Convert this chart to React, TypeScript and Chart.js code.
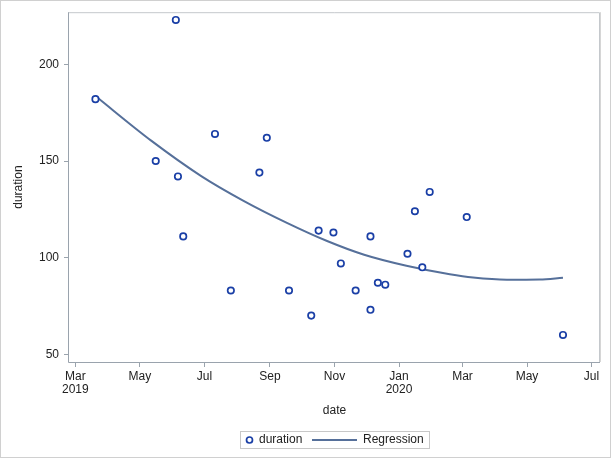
import React, { useEffect, useRef } from "react";
import { Chart, registerables } from "chart.js";

Chart.register(...registerables);

// Observed points
const pointDates = [
  "2019-03-20", "2019-05-16", "2019-06-04", "2019-06-06", "2019-06-11",
  "2019-07-11", "2019-07-26", "2019-08-22", "2019-08-29", "2019-09-19",
  "2019-10-10", "2019-10-17", "2019-10-31", "2019-11-07", "2019-11-21",
  "2019-12-05", "2019-12-05", "2019-12-12", "2019-12-19", "2020-01-09",
  "2020-01-16", "2020-01-23", "2020-01-30", "2020-03-05", "2020-06-04",
];
const durations = [
  182, 150, 223, 142, 111,
  164, 83, 144, 162, 83,
  70, 114, 113, 97, 83,
  111, 73, 87, 86, 102,
  124, 95, 134, 121, 60,
];

// Regression curve
const regDates = [
  "2019-03-20", "2019-05-12", "2019-06-28", "2019-08-07", "2019-09-17",
  "2019-10-25", "2019-11-29", "2020-01-08", "2020-02-18", "2020-03-11",
  "2020-04-12", "2020-05-13", "2020-06-04",
];
const regValues = [
  183.6, 160.4, 142.2, 129.4, 118.0,
  108.6, 101.5, 95.8, 91.4, 89.7,
  88.6, 88.7, 89.6,
];

// Axis ticks
const xTickDates = [
  "2019-03-01", "2019-05-01", "2019-07-01", "2019-09-01", "2019-11-01",
  "2020-01-01", "2020-03-01", "2020-05-01", "2020-07-01",
];
const xTickMonths = ["Mar", "May", "Jul", "Sep", "Nov", "Jan", "Mar", "May", "Jul"];
const xTickYears = ["2019", "", "", "", "", "2020", "", "", ""];
const yTicks = [50, 100, 150, 200];

const X_MIN = "2019-02-23";
const X_MAX = "2020-07-09";
const Y_MIN = 46;
const Y_MAX = 227;

const FONT = "'Liberation Sans', Arial, Helvetica, sans-serif";
const TEXT = "#222";
const MARKER = "#1a3fa6";
const LINE = "#56709a";
const AXIS = "#9aa3ad";

const ms = (d: string) => Date.parse(d + "T00:00:00Z");

const decorPlugin = {
  id: "decor",
  afterDraw(chart: any) {
    const ctx = chart.ctx as CanvasRenderingContext2D;
    const a = chart.chartArea;
    const W = chart.width;
    const H = chart.height;
    ctx.save();
    // outer border
    ctx.strokeStyle = "#d0d0d0";
    ctx.lineWidth = 1;
    ctx.strokeRect(0.5, 0.5, W - 1, H - 1);
    // plot frame
    ctx.strokeStyle = "#c4c8cc";
    ctx.beginPath();
    ctx.moveTo(a.left, a.top + 0.5);
    ctx.lineTo(a.right - 0.5, a.top + 0.5);
    ctx.lineTo(a.right - 0.5, a.bottom);
    ctx.stroke();
    ctx.strokeStyle = "#d6d6d6";
    ctx.beginPath();
    ctx.moveTo(a.right + 0.5, a.top);
    ctx.lineTo(a.right + 0.5, a.bottom);
    ctx.stroke();
    ctx.strokeStyle = AXIS;
    ctx.beginPath();
    ctx.moveTo(a.left - 0.5, a.top);
    ctx.lineTo(a.left - 0.5, a.bottom + 0.5);
    ctx.lineTo(a.right, a.bottom + 0.5);
    ctx.stroke();

    // axis titles
    ctx.fillStyle = TEXT;
    ctx.font = `12px ${FONT}`;
    ctx.textAlign = "center";
    ctx.textBaseline = "middle";
    ctx.fillText("date", (a.left + a.right) / 2, 411);
    ctx.save();
    ctx.translate(19, (a.top + a.bottom) / 2);
    ctx.rotate(-Math.PI / 2);
    ctx.fillText("duration", 0, 0);
    ctx.restore();

    // legend
    const lx = 240, ly = 431, lw = 189, lh = 17;
    ctx.strokeStyle = "#c8c8c8";
    ctx.lineWidth = 1;
    ctx.strokeRect(lx + 0.5, ly + 0.5, lw, lh);
    const cy = ly + lh / 2 + 0.5;
    ctx.strokeStyle = MARKER;
    ctx.lineWidth = 1.7;
    ctx.beginPath();
    ctx.arc(249.5, cy, 3, 0, Math.PI * 2);
    ctx.stroke();
    ctx.textAlign = "left";
    ctx.fillStyle = TEXT;
    ctx.fillText("duration", 259, cy);
    ctx.strokeStyle = LINE;
    ctx.lineWidth = 2;
    ctx.beginPath();
    ctx.moveTo(312, cy);
    ctx.lineTo(357, cy);
    ctx.stroke();
    ctx.fillText("Regression", 363, cy);
    ctx.restore();
  },
};

export default function App() {
  const ref = useRef<HTMLCanvasElement | null>(null);

  useEffect(() => {
    if (!ref.current) return;
    const pts = pointDates.map((d, i) => ({ x: ms(d), y: durations[i] }));
    const reg = regDates.map((d, i) => ({ x: ms(d), y: regValues[i] }));
    const chart = new Chart(ref.current, {
      type: "scatter",
      data: {
        datasets: [
          {
            label: "duration",
            data: pts,
            order: 0,
            pointStyle: "circle",
            pointRadius: 3.2,
            pointBorderWidth: 1.7,
            borderColor: MARKER,
            backgroundColor: "#ffffff",
            showLine: false,
          } as any,
          {
            label: "Regression",
            data: reg,
            order: 1,
            showLine: true,
            pointRadius: 0,
            borderColor: LINE,
            borderWidth: 2,
            cubicInterpolationMode: "monotone",
            fill: false,
          } as any,
        ],
      },
      options: {
        animation: false,
        responsive: false,
        events: [],
        layout: { padding: { top: 10, right: 11, left: 0, bottom: 0 } },
        plugins: {
          legend: { display: false },
          tooltip: { enabled: false },
        },
        scales: {
          x: {
            type: "linear",
            min: ms(X_MIN),
            max: ms(X_MAX),
            afterBuildTicks: (s: any) => {
              s.ticks = xTickDates.map((d) => ({ value: ms(d) }));
            },
            afterFit: (s: any) => {
              s.height = 96;
            },
            ticks: {
              autoSkip: false,
              maxRotation: 0,
              minRotation: 0,
              padding: 3,
              color: TEXT,
              font: { family: FONT, size: 12, lineHeight: 1.1 },
              callback: (_v: any, i: number) =>
                xTickYears[i] ? [xTickMonths[i], xTickYears[i]] : xTickMonths[i],
            },
            grid: {
              drawOnChartArea: false,
              drawTicks: true,
              tickLength: 5,
              color: AXIS,
            },
            border: { display: false },
          },
          y: {
            type: "linear",
            min: Y_MIN,
            max: Y_MAX,
            afterBuildTicks: (s: any) => {
              s.ticks = yTicks.map((v) => ({ value: v }));
            },
            afterFit: (s: any) => {
              s.width = 69;
            },
            ticks: {
              padding: 5,
              color: TEXT,
              font: { family: FONT, size: 12 },
              callback: (v: any) => String(v),
            },
            grid: {
              drawOnChartArea: false,
              drawTicks: true,
              tickLength: 5,
              color: AXIS,
            },
            border: { display: false },
          },
        },
      } as any,
      plugins: [decorPlugin],
    });
    return () => chart.destroy();
  }, []);

  return (
    <div style={{ position: "absolute", left: 0, top: 0, width: 611, height: 458, background: "#fff" }}>
      <canvas ref={ref} width={611} height={458} style={{ display: "block", width: 611, height: 458 }} />
    </div>
  );
}
